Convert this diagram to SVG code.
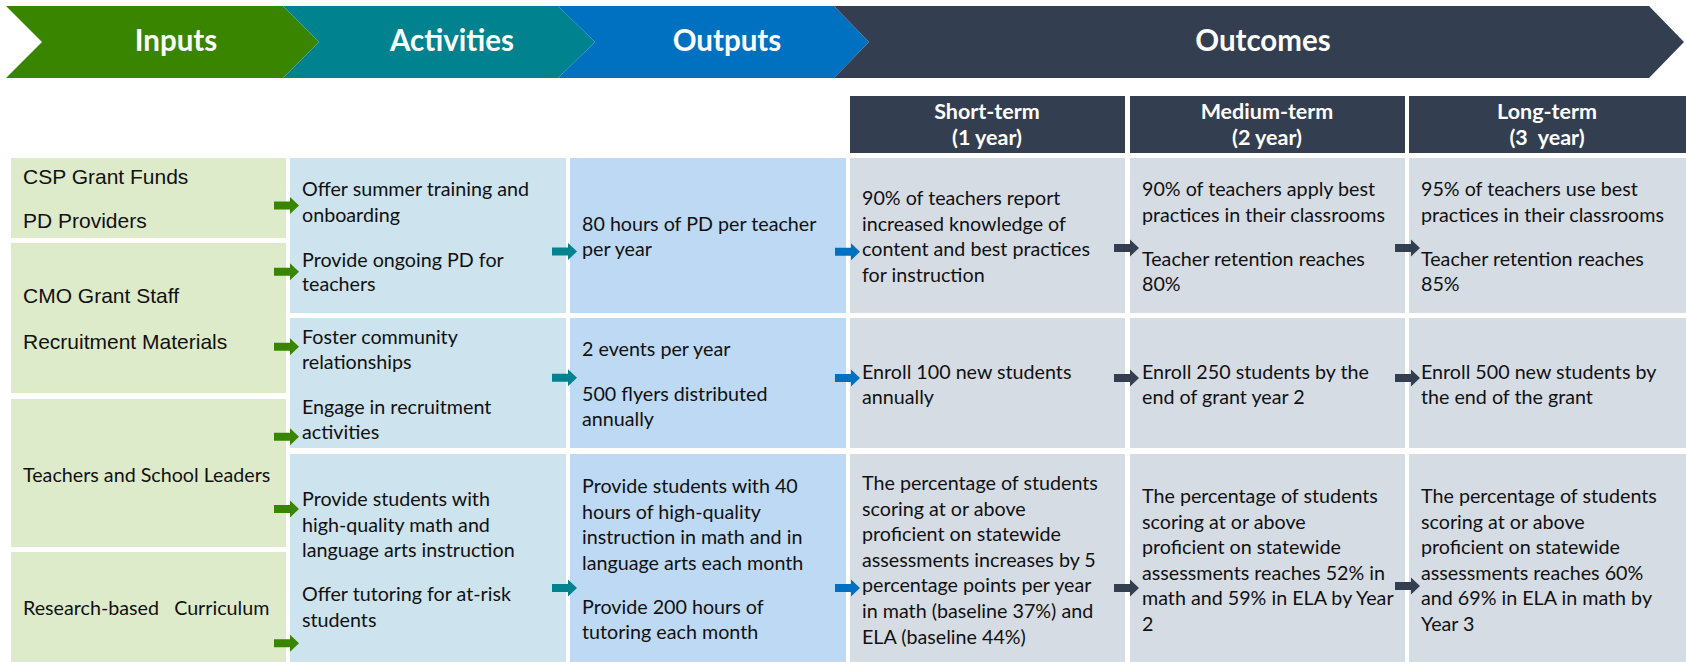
<svg xmlns="http://www.w3.org/2000/svg" xmlns:xlink="http://www.w3.org/1999/xlink" width="1686" height="662" viewBox="0 0 1686 662">
<style>
.hd{font-family:Lato,"Open Sans",sans-serif;font-weight:700;font-size:29.5px;fill:#fff;text-anchor:middle}
.ch{font-family:Lato,"Open Sans",sans-serif;font-weight:700;font-size:21.5px;fill:#fff;text-anchor:middle}
.t{font-family:Lato,"Open Sans",sans-serif;font-size:19.7px;fill:#111}
.a{font-family:"Liberation Sans",Arial,sans-serif;font-size:21px;fill:#111}
.pre{white-space:pre}
.in{fill:#DEEBCB}
.ac{fill:#CDE3EE}
.op{fill:#BDD9F3}
.oc{fill:#D6DCE4}
.hc{fill:#333F50}
</style>
<defs>
<path id="arr" d="M0,-4 L16,-4 L16,-8.5 L25,0 L16,8.5 L16,4 L0,4 Z"/>
</defs>
<rect width="1686" height="662" fill="#fff"/>

<g id="banner">
<g id="hdr-inputs"><polygon points="6,6 283,6 319,42 283,78 6,78 42,42" fill="#3A8500"/><text class="hd" x="176" y="51">Inputs</text></g>
<g id="hdr-activities"><polygon points="283,6 558,6 595,42 558,78 283,78 319,42" fill="#00838F"/><text class="hd" x="452" y="51">Activities</text></g>
<g id="hdr-outputs"><polygon points="558,6 834,6 869,42 834,78 558,78 595,42" fill="#0070C0"/><text class="hd" x="727" y="51">Outputs</text></g>
<g id="hdr-outcomes"><polygon points="834,6 1649,6 1684,42 1649,78 834,78 869,42" fill="#333F50"/><text class="hd" x="1263" y="51">Outcomes</text></g>
</g>

<g id="col-short"><rect class="hc" x="850" y="96" width="275" height="57"/><text class="ch" x="987" y="119">Short-term</text><text class="ch" x="987" y="145">(1 year)</text></g>
<g id="col-medium"><rect class="hc" x="1130" y="96" width="275" height="57"/><text class="ch" x="1267" y="119">Medium-term</text><text class="ch" x="1267" y="145">(2 year)</text></g>
<g id="col-long"><rect class="hc" x="1409" y="96" width="277" height="57"/><text class="ch" x="1547" y="119">Long-term</text><text class="ch pre" x="1547" y="145">(3  year)</text></g>

<g id="in1"><rect class="in" x="11" y="158" width="275" height="80"/><text class="a" x="23" y="184">CSP Grant Funds</text><text class="a" x="23" y="228">PD Providers</text></g>
<g id="in2"><rect class="in" x="11" y="243" width="275" height="150"/><text class="a" x="23" y="303">CMO Grant Staff</text><text class="a" x="23" y="349">Recruitment Materials</text></g>
<g id="in3"><rect class="in" x="11" y="399" width="275" height="148"/><text class="t" x="23" y="482">Teachers and School Leaders</text></g>
<g id="in4"><rect class="in" x="11" y="552" width="275" height="110"/><text class="t pre" x="23" y="615">Research-based   Curriculum</text></g>

<g id="act1"><rect class="ac" x="290" y="158" width="276" height="155"/>
<text class="t" x="302" y="196">Offer summer training and</text><text class="t" x="302" y="222">onboarding</text>
<text class="t" x="302" y="267">Provide ongoing PD for</text><text class="t" x="302" y="291">teachers</text></g>
<g id="act2"><rect class="ac" x="290" y="318" width="276" height="130"/>
<text class="t" x="302" y="344">Foster community</text><text class="t" x="302" y="369">relationships</text>
<text class="t" x="302" y="414">Engage in recruitment</text><text class="t" x="302" y="439">activities</text></g>
<g id="act3"><rect class="ac" x="290" y="454" width="276" height="208"/>
<text class="t" x="302" y="506">Provide students with</text><text class="t" x="302" y="532">high-quality math and</text><text class="t" x="302" y="557">language arts instruction</text>
<text class="t" x="302" y="601">Offer tutoring for at-risk</text><text class="t" x="302" y="627">students</text></g>

<g id="out1"><rect class="op" x="570" y="158" width="276" height="155"/>
<text class="t" x="582" y="231">80 hours of PD per teacher</text><text class="t" x="582" y="256">per year</text></g>
<g id="out2"><rect class="op" x="570" y="318" width="276" height="130"/>
<text class="t" x="582" y="356">2 events per year</text><text class="t" x="582" y="401">500 flyers distributed</text><text class="t" x="582" y="426">annually</text></g>
<g id="out3"><rect class="op" x="570" y="454" width="276" height="208"/>
<text class="t" x="582" y="493">Provide students with 40</text><text class="t" x="582" y="518.5">hours of high-quality</text><text class="t" x="582" y="544">instruction in math and in</text><text class="t" x="582" y="569.5">language arts each month</text>
<text class="t" x="582" y="614">Provide 200 hours of</text><text class="t" x="582" y="639">tutoring each month</text></g>

<g id="st1"><rect class="oc" x="850" y="158" width="275" height="155"/>
<text class="t" x="862" y="205">90% of teachers report</text><text class="t" x="862" y="230.5">increased knowledge of</text><text class="t" x="862" y="256">content and best practices</text><text class="t" x="862" y="281.5">for instruction</text></g>
<g id="st2"><rect class="oc" x="850" y="318" width="275" height="130"/>
<text class="t" x="862" y="379">Enroll 100 new students</text><text class="t" x="862" y="404">annually</text></g>
<g id="st3"><rect class="oc" x="850" y="454" width="275" height="208"/>
<text class="t" x="862" y="490">The percentage of students</text><text class="t" x="862" y="515.6">scoring at or above</text><text class="t" x="862" y="541.2">proficient on statewide</text><text class="t" x="862" y="566.8">assessments increases by 5</text><text class="t" x="862" y="592.4">percentage points per year</text><text class="t" x="862" y="618">in math (baseline 37%) and</text><text class="t" x="862" y="643.6">ELA (baseline 44%)</text></g>

<g id="md1"><rect class="oc" x="1130" y="158" width="275" height="155"/>
<text class="t" x="1142" y="196">90% of teachers apply best</text><text class="t" x="1142" y="222">practices in their classrooms</text>
<text class="t" x="1142" y="266">Teacher retention reaches</text><text class="t" x="1142" y="291">80%</text></g>
<g id="md2"><rect class="oc" x="1130" y="318" width="275" height="130"/>
<text class="t" x="1142" y="379">Enroll 250 students by the</text><text class="t" x="1142" y="404">end of grant year 2</text></g>
<g id="md3"><rect class="oc" x="1130" y="454" width="275" height="208"/>
<text class="t" x="1142" y="503">The percentage of students</text><text class="t" x="1142" y="528.6">scoring at or above</text><text class="t" x="1142" y="554.2">proficient on statewide</text><text class="t" x="1142" y="579.8">assessments reaches 52% in</text><text class="t" x="1142" y="605.4">math and 59% in ELA by Year</text><text class="t" x="1142" y="631">2</text></g>

<g id="lg1"><rect class="oc" x="1409" y="158" width="277" height="155"/>
<text class="t" x="1421" y="196">95% of teachers use best</text><text class="t" x="1421" y="222">practices in their classrooms</text>
<text class="t" x="1421" y="266">Teacher retention reaches</text><text class="t" x="1421" y="291">85%</text></g>
<g id="lg2"><rect class="oc" x="1409" y="318" width="277" height="130"/>
<text class="t" x="1421" y="379">Enroll 500 new students by</text><text class="t" x="1421" y="404">the end of the grant</text></g>
<g id="lg3"><rect class="oc" x="1409" y="454" width="277" height="208"/>
<text class="t" x="1421" y="503">The percentage of students</text><text class="t" x="1421" y="528.6">scoring at or above</text><text class="t" x="1421" y="554.2">proficient on statewide</text><text class="t" x="1421" y="579.8">assessments reaches 60%</text><text class="t" x="1421" y="605.4">and 69% in ELA in math by</text><text class="t" x="1421" y="631">Year 3</text></g>

<g id="connectors">
<use xlink:href="#arr" x="274" y="205.5" fill="#3A8500"/>
<use xlink:href="#arr" x="274" y="271.7" fill="#3A8500"/>
<use xlink:href="#arr" x="274" y="346.7" fill="#3A8500"/>
<use xlink:href="#arr" x="274" y="436.7" fill="#3A8500"/>
<use xlink:href="#arr" x="274" y="509" fill="#3A8500"/>
<use xlink:href="#arr" x="274" y="643.3" fill="#3A8500"/>
<use xlink:href="#arr" x="552" y="251.5" fill="#00838F"/>
<use xlink:href="#arr" x="552" y="377.7" fill="#00838F"/>
<use xlink:href="#arr" x="552" y="588" fill="#00838F"/>
<use xlink:href="#arr" x="835" y="251.7" fill="#0070C0"/>
<use xlink:href="#arr" x="835" y="378" fill="#0070C0"/>
<use xlink:href="#arr" x="835" y="588" fill="#0070C0"/>
<use xlink:href="#arr" x="1114" y="248" fill="#333F50"/>
<use xlink:href="#arr" x="1114" y="378" fill="#333F50"/>
<use xlink:href="#arr" x="1114" y="588" fill="#333F50"/>
<use xlink:href="#arr" x="1395" y="248" fill="#333F50"/>
<use xlink:href="#arr" x="1395" y="378" fill="#333F50"/>
<use xlink:href="#arr" x="1395" y="586" fill="#333F50"/>
</g>
</svg>
